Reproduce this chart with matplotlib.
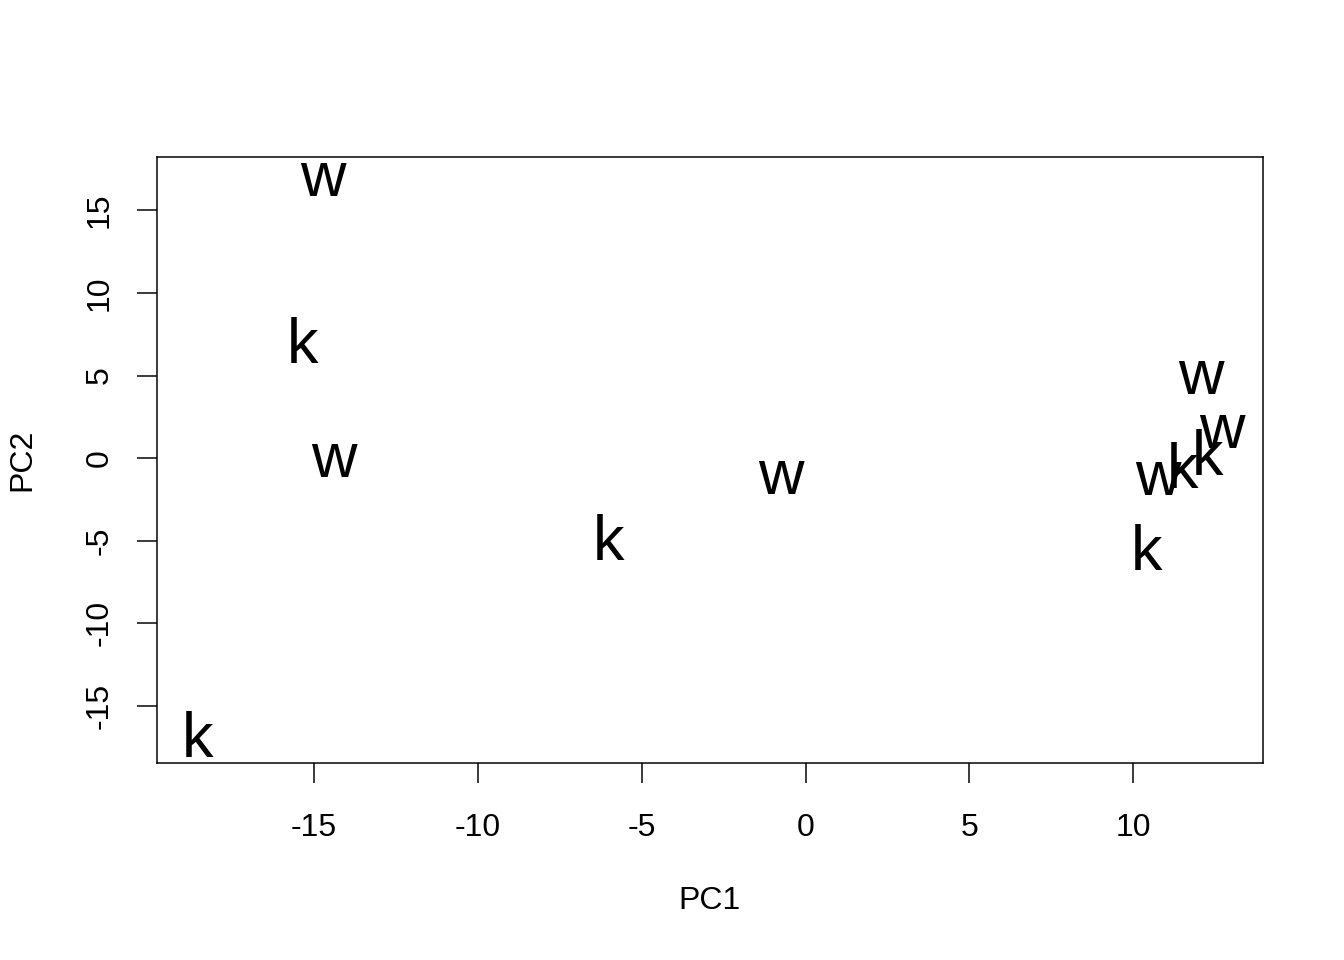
import matplotlib
matplotlib.use("Agg")
import matplotlib.pyplot as plt

# PCA scores
pc1 = [-14.73, -15.34, -14.39, -18.54, -6.00, -0.76,
       12.07, 12.71, 12.26, 11.50, 10.74, 10.40]
pc2 = [16.88, 6.73, -0.18, -17.12, -5.20, -1.20,
       4.85, 1.58, 0.00, -0.80, -1.27, -5.80]
groups = ["w", "k", "w", "k", "k", "w",
          "w", "w", "k", "k", "w", "k"]

xticks = [-15, -10, -5, 0, 5, 10]
yticks = [-15, -10, -5, 0, 5, 10, 15]

plt.rcParams['font.family'] = ['Liberation Sans', 'DejaVu Sans']
plt.rcParams['axes.unicode_minus'] = False

fig = plt.figure(figsize=(1344 / 144, 960 / 144), dpi=144)
ax = fig.add_axes([157 / 1344, 197 / 960, 1106 / 1344, 606 / 960])

for x, y, g in zip(pc1, pc2, groups):
    ax.text(x, y, g, fontsize=31.5, ha='center', va='center', clip_on=True)

# R style 4% padding around the data range
def padded(vals):
    lo, hi = min(vals), max(vals)
    d = (hi - lo) * 0.04
    return lo - d, hi + d

ax.set_xlim(*padded(pc1))
ax.set_ylim(*padded(pc2))

ax.set_xticks(xticks)
ax.set_yticks(yticks)
ax.tick_params(direction='out', length=10, width=0.75, labelsize=16)
ax.tick_params(axis='x', pad=15)
ax.tick_params(axis='y', pad=11)
for lab in ax.get_yticklabels():
    lab.set_rotation(90)
    lab.set_va('center')
for s in ax.spines.values():
    s.set_linewidth(0.75)

ax.set_xlabel('PC1', fontsize=16, va='center')
ax.xaxis.set_label_coords(0.4995, -0.2269)
ax.set_ylabel('PC2', fontsize=16, va='center', ha='center')
ax.yaxis.set_label_coords(-0.1216, 0.5)

fig.savefig('out.png', dpi=144)
